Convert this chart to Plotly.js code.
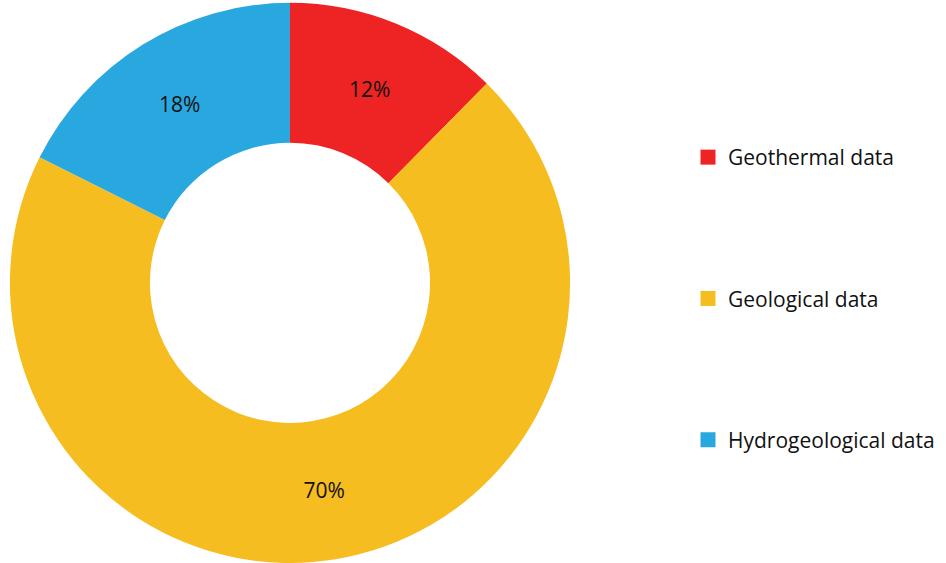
<!DOCTYPE html>
<html>
<head>
<meta charset="utf-8">
<script src="https://cdn.plot.ly/plotly-3.0.1.min.js"></script>
<style>html,body{margin:0;padding:0;background:#fff;}#chart{width:946px;height:563px;}</style>
</head>
<body>
<div id="chart"></div>
<script>
const categories = ["Geothermal data", "Geological data", "Hydrogeological data"];
const shares = [12.4, 70.0, 17.6];
const colors = ["#EE2324", "#F6BD20", "#29A8E0"];

const FONT = "Open Sans, sans-serif";

const pie = {
  type: "pie",
  labels: categories,
  values: shares,
  sort: false,
  direction: "clockwise",
  rotation: 0,
  hole: 0.5,
  marker: { colors: colors, line: { width: 0 } },
  textinfo: "percent",
  texttemplate: "%{percent:.0%}",
  textposition: "inside",
  insidetextorientation: "horizontal",
  textfont: { family: FONT, size: 21, color: "#111111" },
  domain: { x: [4 / 946, 576 / 946], y: [0, 0.995] },
  showlegend: false,
  hoverinfo: "label+percent"
};

const legendTraces = categories.map((name, i) => ({
  type: "scatter",
  mode: "markers",
  x: [null],
  y: [null],
  name: name,
  legendgroup: "g" + i,
  marker: { symbol: "square", size: 15, color: colors[i] },
  showlegend: true,
  hoverinfo: "skip"
}));

const layout = {
  width: 946,
  height: 563,
  margin: { l: 0, r: 0, t: 0, b: 0 },
  paper_bgcolor: "#ffffff",
  plot_bgcolor: "#ffffff",
  xaxis: { visible: false },
  yaxis: { visible: false },
  showlegend: true,
  legend: {
    x: 688 / 946,
    xanchor: "left",
    y: 1 - 137 / 563,
    yanchor: "top",
    tracegroupgap: 111,
    font: { family: FONT, size: 21, color: "#111111" },
    bgcolor: "rgba(0,0,0,0)",
    itemclick: false,
    itemdoubleclick: false
  }
};

Plotly.newPlot("chart", [pie].concat(legendTraces), layout, { displayModeBar: false, staticPlot: true });
</script>
</body>
</html>
